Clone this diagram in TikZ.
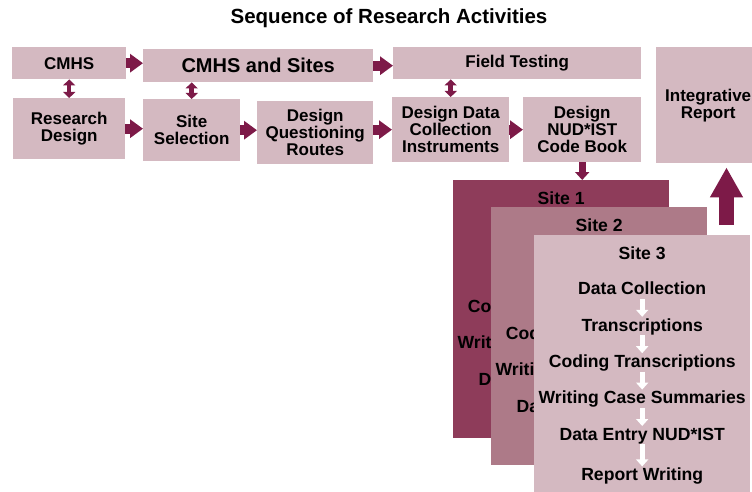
\documentclass[tikz,border=0pt]{standalone}
\usepackage{fontspec}
\setmainfont{Liberation Sans}
\usetikzlibrary{positioning, arrows.meta}

\definecolor{boxfill}{RGB}{212,185,193}
\definecolor{arrowred}{RGB}{125,26,72}
\definecolor{siteone}{RGB}{142,60,90}
\definecolor{sitetwo}{RGB}{173,122,136}

\begin{document}
\begin{tikzpicture}[
  x=1pt, y=-1pt,
  every node/.style={font=\bfseries\fontsize{17}{17}\selectfont, align=center, inner sep=0pt},
  stage/.style={rectangle, fill=boxfill, anchor=north west},
  card/.style={rectangle, anchor=north west, minimum width=216pt, minimum height=258pt},
  item/.style={text height=13pt, text depth=3pt, font=\bfseries\fontsize{17.6}{17}\selectfont},
  bigarrow/.style={line width=10pt, arrowred, -{Triangle[length=13pt,width=18pt]}},
  twoway/.style={line width=4.5pt, arrowred, {Triangle[length=6pt,width=12pt]}-{Triangle[length=6pt,width=12pt]}},
  whitearrow/.style={line width=5pt, white, -{Triangle[length=7pt,width=12pt]}, shorten <=1pt, shorten >=1pt}
]
\path[use as bounding box] (0,0) rectangle (752,492);
\clip (0,0) rectangle (752,492);

\node (title) at (389,18) {\fontsize{20.5}{20}\selectfont Sequence of Research Activities};

% top row
\node[stage, minimum width=114pt, minimum height=32pt] (cmhs) at (12,47) {CMHS};
\node[stage, minimum width=230pt, minimum height=33pt,
      font=\bfseries\fontsize{20}{20}\selectfont] (cmhssites) at (143,49) {CMHS and Sites};
\node[stage, minimum width=248pt, minimum height=32pt] (field) at (393,47) {Field Testing};
\node[stage, minimum width=104pt, minimum height=116pt] (integrative) at (656,47) {Integrative\\Report};

% second row
\node[stage, minimum width=112pt, minimum height=61pt] (resdesign) at (13,98) {Research\\Design};
\node[stage, minimum width=97pt, minimum height=62pt] (sitesel) at (143,99) {Site\\Selection};
\node[stage, minimum width=116pt, minimum height=63pt] (routes) at (257,101) {Design\\Questioning\\Routes};
\node[stage, minimum width=117pt, minimum height=65pt] (instruments) at (392,97) {Design Data\\Collection\\Instruments};
\node[stage, minimum width=118pt, minimum height=65pt] (codebook) at (523,97) {Design\\NUD*IST\\Code Book};

\draw[bigarrow] (cmhs.east) -- (cmhs.east -| cmhssites.west);
\draw[bigarrow] (cmhssites.east) -- (cmhssites.east -| field.west);
\draw[bigarrow] (resdesign.east) -- (resdesign.east -| sitesel.west);
\draw[bigarrow] (sitesel.east) -- (sitesel.east -| routes.west);
\draw[bigarrow] (routes.east |- instruments.west) -- (instruments.west);
\draw[bigarrow] (instruments.east) -- (codebook.west);

\draw[twoway] (cmhs.south) -- (cmhs.south |- resdesign.north);
\draw[twoway] (sitesel.north |- cmhssites.south) -- (sitesel.north);
\draw[twoway] (instruments.north |- field.south) -- (instruments.north);

% site cards, each one laid over the one before
\foreach \n/\x/\y/\c in {1/453/180/siteone, 2/491/207/sitetwo, 3/534/235/boxfill} {
  \node[card, fill=\c] (site\n) at (\x,\y) {};
  \node[item, below=11pt of site\n.north] (head\n) {Site \n};
  \node[item, below=19pt of head\n] (dc\n) {Data Collection};
  \node[item, below=20pt of dc\n] (tr\n) {Transcriptions};
  \node[item, below=20pt of tr\n] (ct\n) {Coding Transcriptions};
  \node[item, below=20pt of ct\n] (ws\n) {Writing Case Summaries};
  \node[item, below=20pt of ws\n] (de\n) {Data Entry NUD*IST};
  \node[item, below=24pt of de\n] (rw\n) {Report Writing};
  \foreach \a/\b in {dc/tr, tr/ct, ct/ws, ws/de, de/rw}
    \draw[whitearrow] (\a\n.south) -- (\b\n.north);
}

\draw[line width=7pt, arrowred, -{Triangle[length=8pt,width=14pt]}] (codebook.south) -- (codebook.south |- site1.north);

\coordinate (upfoot) at (726.5,225);
\draw[line width=15pt, arrowred, -{Triangle[length=30pt,width=31pt]}, shorten >=4pt] (upfoot) -- (upfoot |- integrative.south);
\end{tikzpicture}
\end{document}
